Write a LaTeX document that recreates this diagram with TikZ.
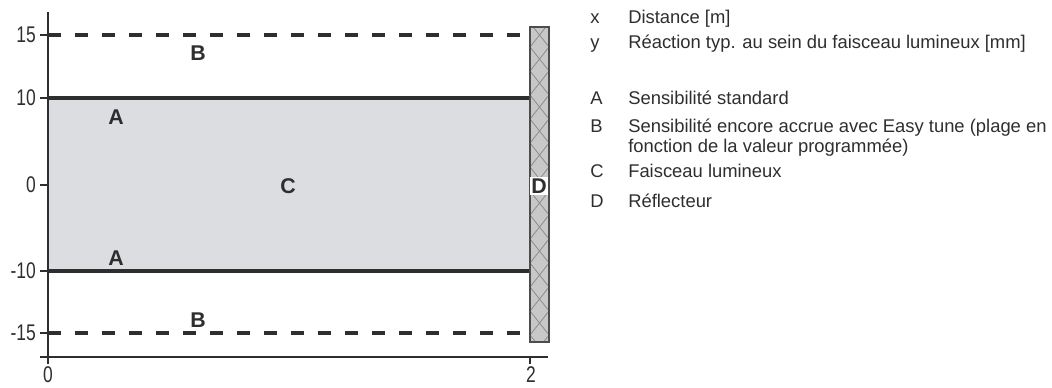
\documentclass[tikz,border=0pt]{standalone}
\usepackage{fontspec}
\setmainfont{Liberation Sans}
\newfontfamily\narrowfont[FakeStretch=0.77]{Liberation Sans}
\usetikzlibrary{positioning}
\definecolor{beamgray}{HTML}{DCDDE0}
\definecolor{reflgray}{HTML}{C8C8C8}
\definecolor{inkgray}{HTML}{2E2E2E}

\begin{document}
\begin{tikzpicture}[x=0.75pt,y=-0.75pt,
  axis/.style={line width=1.5pt,draw=inkgray},
  edgeline/.style={line width=2.4pt,draw=inkgray},
  limitline/.style={line width=2.4pt,draw=inkgray,dash pattern=on 9.75pt off 10.5pt},
  zonelbl/.style={font=\bfseries\fontsize{16}{16}\selectfont,text=inkgray,inner sep=1pt},
  ticklbl/.style={font=\narrowfont\fontsize{17}{17}\selectfont,text=inkgray,inner sep=0pt},
  keyltr/.style={font=\fontsize{13.8}{14.5}\selectfont,text=inkgray,anchor=base west,inner sep=0pt},
  keytxt/.style={keyltr,align=left}]
\useasboundingbox (0,0) rectangle (1052,387);

% beam
\fill[beamgray] (48,98) rectangle (530,271);
\draw[edgeline] (48,98) -- (530,98);
\draw[edgeline] (48,271) -- (530,271);
\draw[limitline] (48,35) -- (530,35);
\draw[limitline] (48,333) -- (530,333);

% reflector
\fill[reflgray] (530,27) rectangle (549,342);
\begin{scope}
  \clip (530,27) rectangle (549,342);
  \foreach \y in {-1,23,...,347}{
    \draw[black!45,line width=0.6pt] (530,\y) -- (549,\y+24);
    \draw[black!45,line width=0.6pt] (530,\y+24) -- (549,\y);
  }
\end{scope}
\draw[line width=1.1pt,draw=inkgray!85] (530,27) rectangle (549,342);

% axes
\draw[axis] (48,12) -- (48,364);
\draw[axis] (40,357) -- (548,357);
\foreach \v/\p in {15/35,10/98,0/185,-10/271,-15/333}{
  \draw[axis] (40,\p) -- (48,\p);
  \node[ticklbl,anchor=east] (ytick\p) at (36,\p) {\v};
}
\draw[axis] (530,357) -- (530,364);
\node[ticklbl,anchor=north] (xtick0) at (48,366) {0};
\node[ticklbl,anchor=north] (xtick2) at (531,366) {2};

% zone letters
\node[zonelbl] (btop) at (198,53) {B};
\node[zonelbl] (atop) at (116,117) {A};
\node[zonelbl] (cmid) at (288,186) {C};
\node[zonelbl] (abot) at (116,258) {A};
\node[zonelbl] (bbot) at (198,320) {B};
\node[zonelbl,fill=white] (drefl) at (539,186) {D};

% legend
\node[keyltr] (kx) at (590,23) {x};
\node[keytxt] (tx) at (628,23) {Distance [m]};
\node[keyltr] (ky) at (590,48) {y};
\node[keytxt] (ty) at (628,48) {Réaction typ. au sein du faisceau lumineux [mm]};
\node[keyltr] (ka) at (590,104) {A};
\node[keytxt] (ta) at (628,104) {Sensibilité standard};
\node[keyltr] (kb) at (590,132) {B};
\node[keytxt] (tb) at (628,152) {Sensibilité encore accrue avec Easy tune (plage en\\fonction de la valeur programmée)};
\node[keyltr] (kc) at (590,177) {C};
\node[keytxt] (tc) at (628,177) {Faisceau lumineux};
\node[keyltr] (kd) at (590,207) {D};
\node[keytxt] (td) at (628,207) {Réflecteur};
\end{tikzpicture}
\end{document}
